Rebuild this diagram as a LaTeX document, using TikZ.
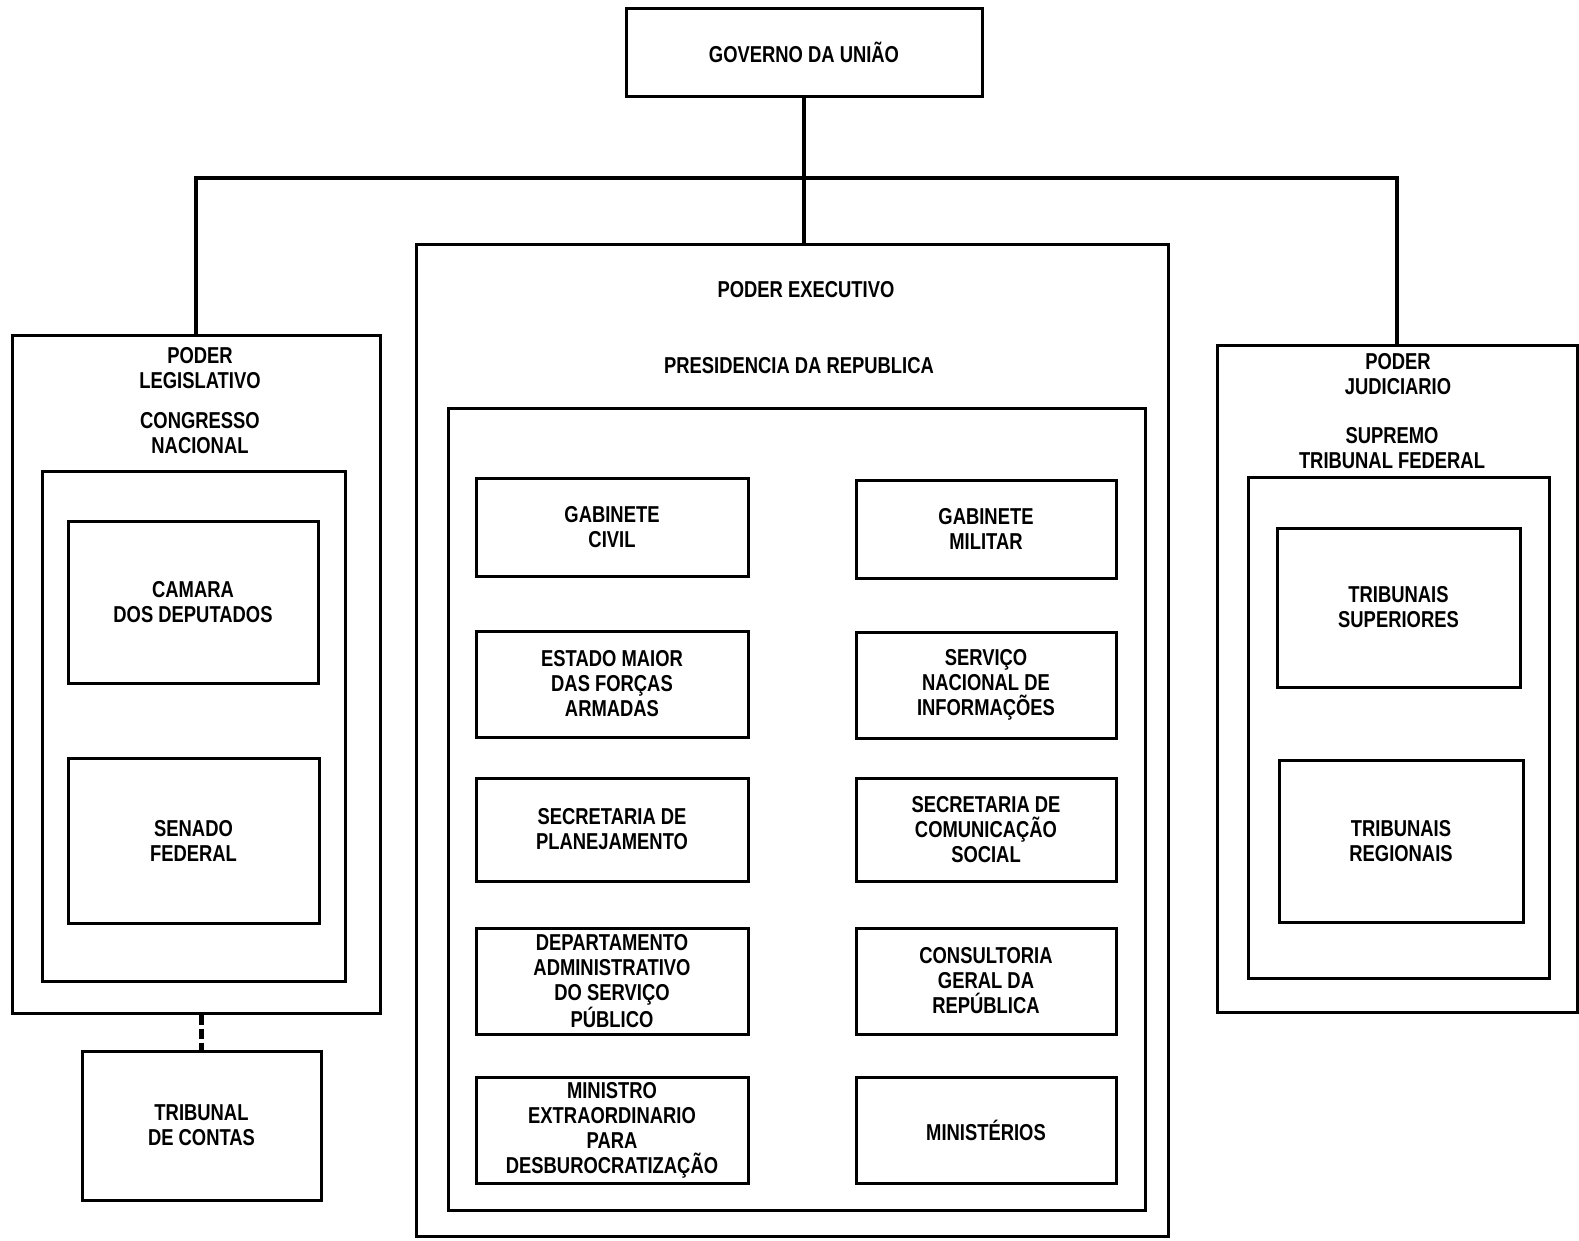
\documentclass[tikz,border=0pt]{standalone}
\usepackage{fontspec}
\newfontfamily\chartfont{Liberation Sans}[FakeStretch=0.8]
\begin{document}
\begin{tikzpicture}[x=1pt,y=-1pt,
  every node/.style={font=\chartfont\bfseries\fontsize{23}{25}\selectfont, align=center, inner sep=0pt},
  box/.style={draw, line width=3pt},
  conn/.style={line width=3.5pt},
  lbl/.style={}]
\useasboundingbox (0,0) rectangle (1579,1240);
% top
\node[box, minimum width=356, minimum height=88] (gov) at (804,52) {GOVERNO DA UNIÃO};
% executive
\node[box, minimum width=752, minimum height=992] (exec) at (792,740) {};
\node[lbl] (execT) at (806,290) {PODER EXECUTIVO};
\node[lbl] (presT) at (799,366) {PRESIDENCIA DA REPUBLICA};
\node[box, minimum width=697, minimum height=802] (pres) at (796.5,809) {};
\node[box, minimum width=272, minimum height=98] (gc) at (612,527) {GABINETE\\CIVIL};
\node[box, minimum width=272, minimum height=106] (em) at (612,684) {ESTADO MAIOR\\DAS FORÇAS\\ARMADAS};
\node[box, minimum width=272, minimum height=103] (sp) at (612,829.5) {SECRETARIA DE\\PLANEJAMENTO};
\node[box, minimum width=272, minimum height=106] (dasp) at (612,981) {DEPARTAMENTO\\ADMINISTRATIVO\\DO SERVIÇO\\PÚBLICO};
\node[box, minimum width=272, minimum height=106] (mex) at (612,1130) {MINISTRO\\EXTRAORDINARIO\\PARA\\DESBUROCRATIZAÇÃO};
\node[box, minimum width=260, minimum height=98] (gm) at (986,529) {GABINETE\\MILITAR};
\node[box, minimum width=260, minimum height=106] (sni) at (986,685) {SERVIÇO\\NACIONAL DE\\INFORMAÇÕES};
\node[box, minimum width=260, minimum height=103] (scs) at (986,829.5) {SECRETARIA DE\\COMUNICAÇÃO\\SOCIAL};
\node[box, minimum width=260, minimum height=106] (cgr) at (986,981) {CONSULTORIA\\GERAL DA\\REPÚBLICA};
\node[box, minimum width=260, minimum height=106] (min) at (986,1130) {MINISTÉRIOS};
% legislative
\node[box, minimum width=368, minimum height=678] (leg) at (196,674) {};
\node[lbl] (legT) at (200,368) {PODER\\LEGISLATIVO};
\node[lbl] (cnT) at (200,433) {CONGRESSO\\NACIONAL};
\node[box, minimum width=303, minimum height=510] (cn) at (193.5,726) {};
\node[box, minimum width=250, minimum height=162] (cam) at (193,602) {CAMARA\\DOS DEPUTADOS};
\node[box, minimum width=251, minimum height=165] (sen) at (193.5,840.5) {SENADO\\FEDERAL};
\node[box, minimum width=239, minimum height=149] (tc) at (201.5,1125.5) {TRIBUNAL\\DE CONTAS};
% judiciary
\node[box, minimum width=360, minimum height=667] (jud) at (1397,678.5) {};
\node[lbl] (judT) at (1398,374) {PODER\\JUDICIARIO};
\node[lbl] (stfT) at (1392,448) {SUPREMO\\TRIBUNAL FEDERAL};
\node[box, minimum width=301, minimum height=501] (stf) at (1398.5,727.5) {};
\node[box, minimum width=243, minimum height=159] (ts) at (1398.5,607.5) {TRIBUNAIS\\SUPERIORES};
\node[box, minimum width=244, minimum height=162] (tr) at (1401,841) {TRIBUNAIS\\REGIONAIS};
% connectors
\coordinate (bus) at (804,178);
\draw[conn] (gov.south) -- (gov.south |- exec.north);
\draw[conn] (leg.north) |- (bus) -| (jud.north);
\draw[line width=4.5pt, dash pattern=on 10pt off 4pt] (tc.north |- leg.south) -- (tc.north);
\end{tikzpicture}
\end{document}
